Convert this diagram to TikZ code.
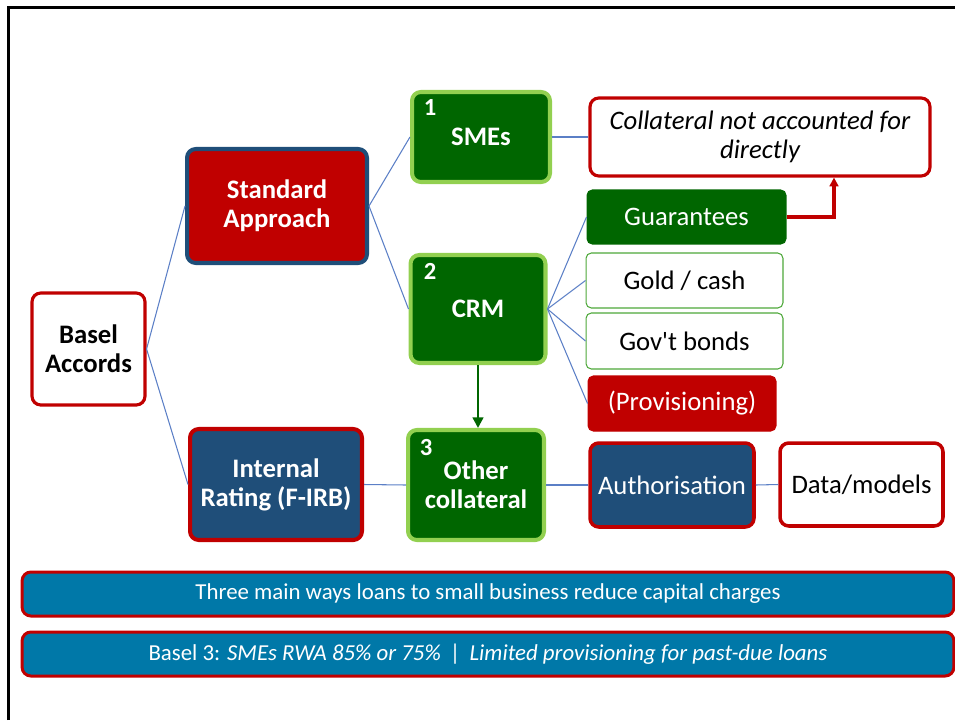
\documentclass[tikz,border=0pt]{standalone}
\usepackage{fontspec}
\setmainfont{Carlito}
\usetikzlibrary{arrows.meta}

\definecolor{basred}{HTML}{C00000}
\definecolor{basblue}{HTML}{1F4E79}
\definecolor{basgreen}{HTML}{006600}
\definecolor{litegreen}{HTML}{92D050}
\definecolor{thingreen}{HTML}{4EA83A}
\definecolor{bannerblue}{HTML}{0078A8}
\definecolor{linkblue}{HTML}{5B7FC6}

\newcommand{\boxfont}{\fontsize{15.2}{16.5}\selectfont}

\begin{document}
\begin{tikzpicture}[x=0.02cm, y=-0.02cm,
    box/.style={rectangle, rounded corners=5pt, align=center, inner sep=0pt, font=\boxfont},
    redbox/.style={box, draw=basred, line width=1.8pt, fill=white},
    greenbox/.style={box, draw=litegreen, line width=2.3pt, fill=basgreen, text=white, font=\boxfont\bfseries},
    itembox/.style={box, rounded corners=3pt, line width=0.6pt, minimum width=3.94cm, minimum height=1.1cm},
    banner/.style={box, draw=basred, line width=1.7pt, fill=bannerblue, text=white, minimum width=18.64cm, minimum height=0.88cm, font=\fontsize{13}{15}\selectfont},
    num/.style={text=white, font=\fontsize{14}{14}\selectfont\bfseries, inner sep=0pt},
    link/.style={linkblue, line width=0.6pt}]

    \useasboundingbox (0,0) rectangle (955,720);

    % frame (top and left only)
    \draw[line width=1.8pt] (8.5,720) -- (8.5,7.5) -- (955,7.5);

    % root
    \node[redbox, minimum width=2.26cm, minimum height=2.24cm, font=\boxfont\bfseries] (basel) at (88.5,349) {Basel\\Accords};

    % two approaches
    \node[box, fill=basred, draw=basblue, line width=2.3pt, text=white, minimum width=3.6cm, minimum height=2.28cm, font=\boxfont\bfseries] (std) at (277,206) {Standard\\Approach};
    \node[box, fill=basblue, draw=basred, line width=2.3pt, text=white, minimum width=3.44cm, minimum height=2.22cm, font=\boxfont\bfseries] (irb) at (276,484.5) {Internal\\Rating (F-IRB)};

    % the three ways
    \node[greenbox, minimum width=2.76cm, minimum height=1.8cm] (sme) at (481,137) {SMEs};
    \node[greenbox, minimum width=2.7cm, minimum height=2.16cm] (crm) at (478,309) {CRM};
    \node[greenbox, minimum width=2.72cm, minimum height=2.2cm] (oth) at (476,485) {Other\\collateral};
    \node[num] (n1) at (430,108) {1};
    \node[num] (n2) at (430,271) {2};
    \node[num] (n3) at (426,448) {3};

    % right column
    \node[redbox, minimum width=6.8cm, minimum height=1.56cm, font=\boxfont\itshape] (coll) at (760,137) {Collateral not accounted for\\directly};
    \node[itembox, fill=basgreen, draw=basgreen, text=white, minimum width=3.98cm, minimum height=1.08cm] (guar) at (686.5,217) {Guarantees};
    \node[itembox, draw=thingreen, fill=white] (gold) at (684.5,280.5) {Gold / cash};
    \node[itembox, draw=thingreen, fill=white, minimum height=1.12cm] (gov) at (684.5,341) {Gov\textquotesingle t bonds};
    \node[itembox, fill=basred, draw=basred, text=white, minimum width=3.76cm] (prov) at (682,403.5) {(Provisioning)};
    \node[box, fill=basblue, draw=basred, line width=2pt, text=white, minimum width=3.28cm, minimum height=1.68cm] (auth) at (672,485) {Authorisation};
    \node[redbox, line width=2pt, minimum width=3.26cm, minimum height=1.66cm] (data) at (861.5,484.5) {Data/models};

    % connectors
    \draw[link] (basel.east) -- (std.west);
    \draw[link] (basel.east) -- (irb.west);
    \draw[link] (std.east) -- (sme.west);
    \draw[link] (std.east) -- (crm.west);
    \draw[link] (sme.east) -- (coll.west);
    \foreach \t in {guar, gold, gov, prov}
        \draw[link] (crm.east) -- (\t.west);
    \draw[link] (irb.east) -- (oth.west);
    \draw[link] (oth.east) -- (auth.west);
    \draw[link] (auth.east) -- (data.west);

    % arrows
    \draw[-{Triangle[length=6pt,width=6pt]}, basgreen, line width=1.3pt] (crm.south) -- (crm.south |- oth.north);
    \draw[-{Triangle[length=5pt,width=5pt]}, basred, line width=1.8pt] (guar.east) -| ([xshift=1.48cm]coll.south);

    % banners
    \node[banner] (ban1) at (488,594) {Three main ways loans to small business reduce capital charges};
    \node[banner] (ban2) at (488,654) {Basel 3: \textit{SMEs RWA 85\% or 75\%}\hspace{0.4em}|\hspace{0.4em}\textit{Limited provisioning for past-due loans}};
\end{tikzpicture}
\end{document}
